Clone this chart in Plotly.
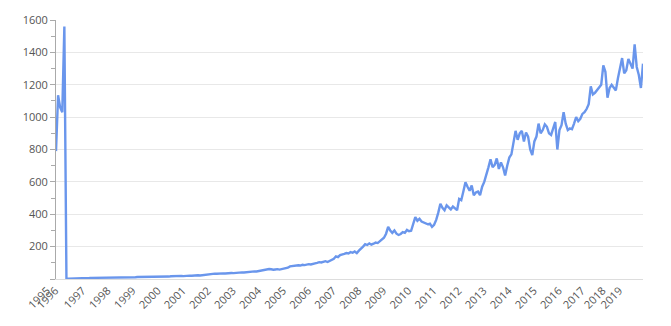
import plotly.graph_objects as go

years = list(range(1995, 2020))

v1995 = [790, 1135, 1060, 1030]
v1996 = [1560, 2, 2, 2, 2, 2, 2, 2, 6, 6, 6, 6, 6]
v1997 = [7, 7, 8, 8, 8, 8, 8, 9, 9, 9, 9, 9]
v1998 = [9, 10, 10, 10, 10, 10, 11, 11, 11, 11, 12, 12]
v1999 = [12, 12, 13, 13, 13, 14, 14, 13, 14, 15, 15, 15]
v2000 = [16, 15, 17, 18, 16, 18, 17, 19, 18, 20, 19, 21]
v2001 = [20, 22, 21, 23, 22, 24, 25, 24, 27, 30, 32, 33]
v2002 = [32, 34, 33, 35, 34, 36, 35, 37, 36, 38, 40, 42]
v2003 = [41, 40, 42, 44, 43, 45, 47, 46, 49, 52, 54, 56]
v2004 = [58, 62, 60, 57, 59, 61, 58, 60, 62, 64, 70, 78]
v2005 = [80, 78, 82, 85, 83, 88, 86, 90, 92, 90, 95, 97]
v2006 = [100, 104, 102, 106, 110, 105, 112, 118, 125, 140, 135, 148]
v2007 = [150, 155, 160, 158, 166, 162, 170, 160, 175, 185, 200, 215]
v2008 = [210, 220, 212, 218, 225, 222, 235, 242, 255, 280, 322, 300]
v2009 = [285, 300, 280, 272, 278, 290, 285, 303, 295, 298, 340, 382]
v2010 = [360, 372, 355, 350, 345, 338, 342, 322, 335, 365, 410, 465]
v2011 = [440, 425, 455, 440, 430, 448, 438, 425, 495, 487, 540, 598]
v2012 = [570, 545, 578, 518, 535, 540, 518, 570, 600, 638, 690, 740]
v2013 = [690, 705, 745, 680, 720, 690, 640, 700, 750, 770, 850, 915]
v2014 = [860, 900, 915, 850, 905, 880, 800, 765, 850, 880, 960, 900]
v2015 = [920, 955, 940, 900, 890, 930, 970, 800, 920, 950, 1030, 960]
v2016 = [920, 930, 925, 960, 1000, 975, 990, 1020, 1030, 1050, 1080]
v2017 = [1190, 1140, 1150, 1165, 1180, 1200, 1320, 1280, 1120, 1180]
v2018 = [1200, 1180, 1165, 1240, 1300, 1365, 1270, 1290]
v2019 = [1360, 1330, 1300, 1450, 1310, 1260, 1180, 1330]

series = [v1995, v1996, v1997, v1998, v1999, v2000, v2001, v2002, v2003,
          v2004, v2005, v2006, v2007, v2008, v2009, v2010, v2011, v2012,
          v2013, v2014, v2015, v2016, v2017, v2018, v2019]

y_ticks = [0, 200, 400, 600, 800, 1000, 1200, 1400, 1600]
y_ticktext = ["", "200", "400", "600", "800", "1000", "1200", "1400", "1600"]

labels, values, tick_cats, tick_text = [], [], [], []
for yr, vals in zip(years, series):
    for k, v in enumerate(vals):
        lab = f"{yr}-{k + 1:02d}"
        if k == 0:
            tick_cats.append(lab)
            tick_text.append(str(yr))
        labels.append(lab)
        values.append(v)

fig = go.Figure()
fig.add_trace(go.Scatter(
    x=labels, y=values, mode="lines",
    line=dict(color="#6a96ec", width=2.4),
    hoverinfo="skip",
))

fig.update_layout(
    width=671, height=326,
    margin=dict(l=56, r=28, t=14, b=47),
    paper_bgcolor="white", plot_bgcolor="white",
    showlegend=False,
    font=dict(family="Open Sans, Arial, sans-serif", size=11, color="#555555"),
)
fig.update_xaxes(
    type="category",
    range=[0, len(labels) - 1],
    tickmode="array", tickvals=tick_cats, ticktext=tick_text,
    tickangle=-45,
    ticklabelshift=-9,
    showgrid=False, zeroline=False,
    showline=True, linecolor="#dddddd", linewidth=1,
    ticks="",
    tickfont=dict(size=11, color="#555555"),
)
fig.update_yaxes(
    range=[0, 1600],
    tickmode="array", tickvals=y_ticks, ticktext=y_ticktext,
    showgrid=True, gridcolor="#e8e8e8", gridwidth=1,
    zeroline=False,
    showline=True, linecolor="#aaaaaa", linewidth=1,
    ticks="outside", ticklen=5, tickcolor="#aaaaaa",
    minor=dict(tickmode="linear", tick0=0, dtick=100, ticks="outside",
               ticklen=4, tickcolor="#aaaaaa", showgrid=False),
    tickfont=dict(size=11, color="#555555"),
)

fig.write_html("out.html")
